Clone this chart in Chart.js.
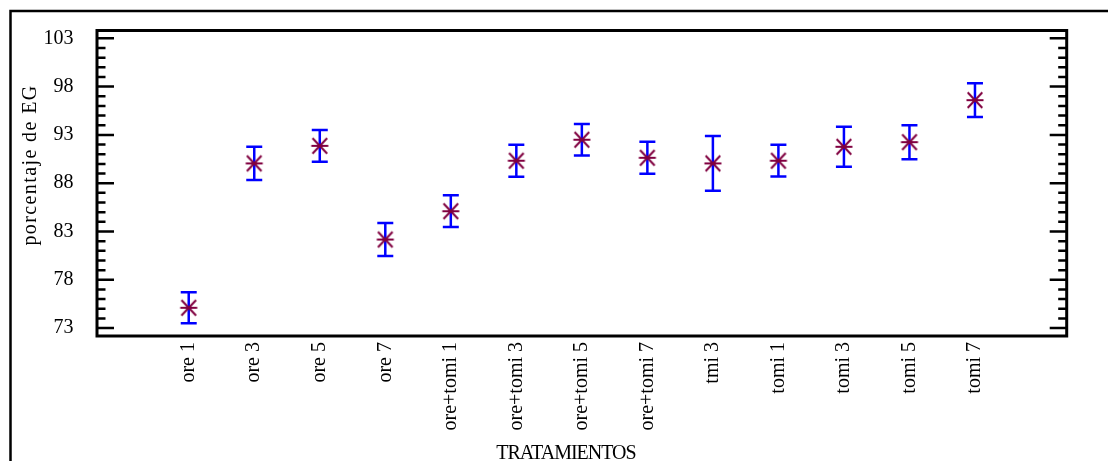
<!DOCTYPE html>
<html>
<head>
<meta charset="utf-8">
<title>porcentaje de EG por tratamiento</title>
<script src="https://cdn.jsdelivr.net/npm/chart.js@4.4.1/dist/chart.umd.min.js"></script>
<style>
  html, body { margin: 0; padding: 0; background: #fff; }
  #wrap { width: 1108px; height: 461px; position: relative; }
</style>
</head>
<body>
<div id="wrap"><canvas id="chart"></canvas></div>
<script>
// ---- data ----
const categories = [
  "ore 1", "ore 3", "ore 5", "ore 7",
  "ore+tomi 1", "ore+tomi 3", "ore+tomi 5", "ore+tomi 7",
  "tmi 3", "tomi 1", "tomi 3", "tomi 5", "tomi 7"
];
const means  = [75.1, 90.05, 91.87, 82.17, 85.1, 90.33, 92.5, 90.63, 90.05, 90.33, 91.77, 92.25, 96.6];
const errors = [1.6, 1.72, 1.64, 1.72, 1.64, 1.65, 1.64, 1.65, 2.83, 1.64, 2.07, 1.76, 1.74];
const yTicks = [73, 78, 83, 88, 93, 98, 103];
const yMin = 72.18;
const yMax = 103.81;

const SERIF = "'Liberation Serif', 'Times New Roman', serif";

// asterisk used as point marker (horizontal bar + two diagonals)
function makeAsterisk(color) {
  const c = document.createElement("canvas");
  c.width = 22;
  c.height = 22;
  const g = c.getContext("2d");
  const m = 11;
  g.strokeStyle = color;
  g.lineWidth = 2;
  g.beginPath();
  g.moveTo(m - 8.5, m); g.lineTo(m + 8.5, m);
  g.moveTo(m - 7.3, m - 7.8); g.lineTo(m + 7.3, m + 7.8);
  g.moveTo(m - 7.3, m + 7.8); g.lineTo(m + 7.3, m - 7.8);
  g.stroke();
  return c;
}

// whisker per treatment: mean +/- error
const errorBars = {
  id: "errorBars",
  beforeDatasetsDraw(chart) {
    const { ctx, scales: { x, y } } = chart;
    ctx.save();
    ctx.strokeStyle = "#0000ff";
    ctx.lineWidth = 2.5;
    means.forEach((m, i) => {
      const px = x.getPixelForValue(i + 1);
      const top = y.getPixelForValue(m + errors[i]);
      const bot = y.getPixelForValue(m - errors[i]);
      ctx.beginPath();
      ctx.moveTo(px, top); ctx.lineTo(px, bot);
      ctx.moveTo(px - 8, top); ctx.lineTo(px + 8, top);
      ctx.moveTo(px - 8, bot); ctx.lineTo(px + 8, bot);
      ctx.stroke();
    });
    ctx.restore();
  }
};

// outer frame, boxed plot area with inward ticks on both sides, axis titles
const frame = {
  id: "frame",
  beforeDraw(chart) {
    const { ctx, width, height } = chart;
    ctx.save();
    ctx.fillStyle = "#fff";
    ctx.fillRect(0, 0, width, height);
    ctx.strokeStyle = "#000";
    ctx.lineWidth = 2.5;
    ctx.strokeRect(10.5, 11, width + 20, height + 20);
    ctx.restore();
  },
  afterDraw(chart) {
    const { ctx, chartArea: a, scales: { y } } = chart;
    ctx.save();
    ctx.strokeStyle = "#000";

    // ticks: major at labelled values, minor every unit
    ctx.lineWidth = 2.5;
    ctx.beginPath();
    for (let v = Math.ceil(yMin); v <= Math.floor(yMax); v++) {
      const py = y.getPixelForValue(v);
      const len = yTicks.includes(v) ? 17 : 8.5;
      ctx.moveTo(a.left, py); ctx.lineTo(a.left + len, py);
      ctx.moveTo(a.right, py); ctx.lineTo(a.right - len, py);
    }
    ctx.stroke();

    ctx.lineWidth = 3;
    ctx.strokeRect(a.left, a.top, a.right - a.left, a.bottom - a.top);

    ctx.fillStyle = "#000";
    ctx.textAlign = "center";
    ctx.textBaseline = "middle";
    ctx.font = "20px " + SERIF;

    ctx.letterSpacing = "-1px";
    ctx.fillText("TRATAMIENTOS", 566, 454);

    ctx.translate(31, 165);
    ctx.rotate(-Math.PI / 2);
    ctx.letterSpacing = "1.4px";
    ctx.fillText("porcentaje de EG", 0, 0);
    ctx.restore();
  }
};

new Chart(document.getElementById("chart"), {
  type: "scatter",
  data: {
    datasets: [
      {
        data: means.map((m, i) => ({ x: i + 1, y: m })),
        pointStyle: makeAsterisk("#800040"),
        pointRadius: 9,
        showLine: false
      }
    ]
  },
  options: {
    responsive: true,
    maintainAspectRatio: false,
    animation: false,
    layout: { padding: { top: 30.5, right: 41.3, left: 0, bottom: 0 } },
    plugins: {
      legend: { display: false },
      tooltip: { enabled: false }
    },
    scales: {
      x: {
        type: "linear",
        min: -0.4,
        max: 14.4,
        grid: { display: false, drawTicks: false },
        border: { display: false },
        afterBuildTicks: (s) => {
          s.ticks = categories.map((_, i) => ({ value: i + 1 }));
        },
        afterFit: (s) => { s.height = 125; },
        ticks: {
          autoSkip: false,
          minRotation: 90,
          maxRotation: 90,
          padding: 6,
          color: "#000",
          font: { family: SERIF, size: 20 },
          callback: (v) => categories[v - 1] ?? ""
        }
      },
      y: {
        min: yMin,
        max: yMax,
        grid: { display: false, drawTicks: false },
        border: { display: false },
        afterBuildTicks: (s) => {
          s.ticks = yTicks.map((v) => ({ value: v }));
        },
        afterFit: (s) => {
          s.width = 97;
          s.paddingTop = 0;
          s.paddingBottom = 0;
        },
        ticks: {
          padding: 23.5,
          color: "#000",
          font: { family: SERIF, size: 20 },
          callback: (v) => String(v)
        }
      }
    }
  },
  plugins: [errorBars, frame]
});
</script>
</body>
</html>
